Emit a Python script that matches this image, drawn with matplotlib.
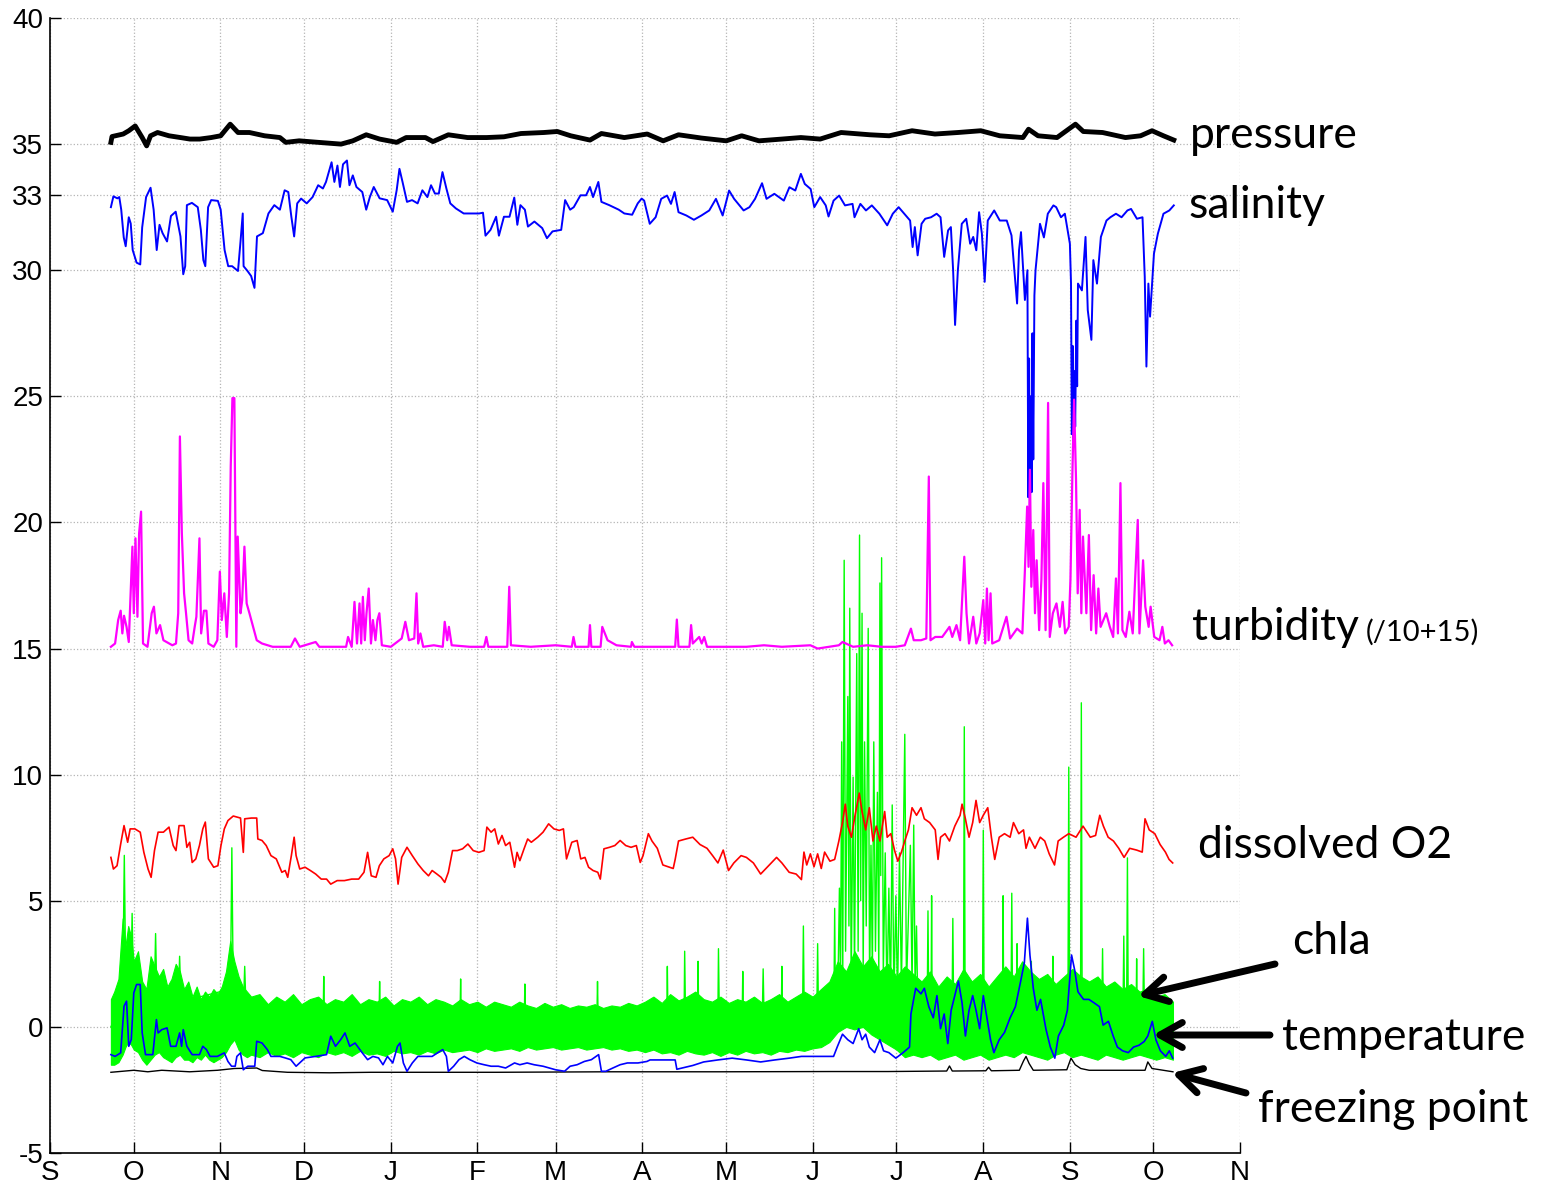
import numpy as np
import matplotlib
matplotlib.use('Agg')
import matplotlib.pyplot as plt
import matplotlib.dates as mdates
from matplotlib.ticker import FuncFormatter

# days since 1 Sep 2012
pressure = [(21.8, 35.07), (22.2, 35.3), (26.2, 35.4), (28.2, 35.53), (30.5, 35.72), (33.0, 35.26),
            (34.6, 34.93), (36.0, 35.33), (38.5, 35.46), (42.6, 35.33), (46.7, 35.26), (50.1, 35.2),
            (53.6, 35.2), (57.7, 35.26), (61.1, 35.33), (64.5, 35.79), (67.3, 35.46), (71.4, 35.46),
            (76.8, 35.33), (82.3, 35.26), (84.4, 35.07), (89.2, 35.13), (96.0, 35.07), (104.2, 35.0),
            (108.4, 35.13), (113.2, 35.37), (118.0, 35.2), (124.1, 35.07), (127.5, 35.26), (134.4, 35.26),
            (137.1, 35.1), (142.6, 35.37), (149.5, 35.26), (156.3, 35.26), (162.5, 35.29), (168.6, 35.42),
            (176.8, 35.46), (181.6, 35.5), (186.4, 35.33), (193.3, 35.16), (197.4, 35.42), (205.6, 35.26),
            (213.8, 35.4), (219.5, 35.13), (225.0, 35.37), (233.2, 35.24), (242.1, 35.13), (247.6, 35.33),
            (253.8, 35.13), (262.0, 35.2), (268.8, 35.26), (275.7, 35.2), (283.2, 35.46), (293.5, 35.37),
            (300.4, 35.33), (308.6, 35.53), (316.8, 35.4), (325.0, 35.46), (333.2, 35.53), (340.0, 35.33),
            (348.3, 35.26), (350.3, 35.59), (353.7, 35.33), (360.5, 35.26), (367.1, 35.79), (369.9, 35.5),
            (376.8, 35.46), (385.0, 35.26), (390.4, 35.33), (394.5, 35.53), (398.6, 35.33), (402.3, 35.16)]

salinity = [(21.8, 32.5), (22.7, 32.93), (24.1, 32.85), (24.8, 32.9), (25.5, 32.4), (26.4, 31.3), (27.1, 30.95),
            (28.2, 32.1), (28.9, 31.85), (29.6, 30.8), (31.0, 30.3), (32.3, 30.23), (33.0, 31.7), (34.4, 32.9),
            (36.0, 33.27), (37.1, 32.4), (38.2, 30.8), (39.2, 31.8), (40.3, 31.47), (41.9, 31.14), (43.3, 32.15),
            (45.0, 32.32), (46.7, 31.34), (47.7, 29.84), (48.4, 30.16), (49.0, 32.58), (50.8, 32.67), (52.9, 32.5),
            (54.0, 31.6), (54.9, 30.4), (55.6, 30.16), (56.6, 32.5), (57.7, 32.78), (60.1, 32.75), (61.1, 32.4),
            (62.5, 30.8), (63.8, 30.16), (65.2, 30.16), (67.3, 29.97), (68.2, 31.14), (69.0, 32.25), (69.3, 30.16),
            (70.7, 29.97), (72.0, 29.77), (73.2, 29.3), (74.1, 31.34), (76.2, 31.47), (78.2, 32.25), (80.3, 32.58),
            (82.3, 32.4), (84.0, 33.17), (85.3, 33.1), (86.4, 32.12), (87.4, 31.34), (88.5, 32.65), (89.9, 32.84),
            (91.9, 32.65), (94.0, 32.9), (96.0, 33.37), (97.7, 33.24), (98.8, 33.5), (100.8, 34.28), (101.8, 33.5),
            (102.9, 34.15), (103.8, 33.3), (104.9, 34.2), (106.3, 34.35), (107.2, 33.37), (108.4, 33.76),
            (109.7, 33.3), (111.8, 33.1), (113.2, 32.4), (114.5, 32.9), (115.9, 33.3), (118.0, 32.85),
            (120.7, 32.78), (122.7, 32.32), (124.1, 33.17), (125.1, 34.02), (126.2, 33.5), (127.8, 32.71),
            (129.6, 32.78), (131.6, 32.65), (133.3, 33.17), (135.1, 32.9), (136.4, 33.37), (137.8, 33.04),
            (139.2, 33.04), (140.5, 33.89), (141.9, 33.24), (143.3, 32.65), (145.3, 32.45), (148.1, 32.25),
            (150.8, 32.25), (153.6, 32.25), (155.0, 32.28), (155.9, 31.37), (157.7, 31.6), (159.7, 32.12),
            (160.7, 31.37), (162.5, 32.12), (164.5, 32.12), (166.2, 32.88), (167.3, 31.8), (168.4, 32.58),
            (170.0, 32.4), (171.1, 31.73), (173.4, 31.93), (176.2, 31.67), (177.9, 31.27), (179.9, 31.54),
            (183.0, 31.6), (184.4, 32.78), (186.2, 32.4), (187.5, 32.5), (189.9, 32.97), (191.9, 32.97),
            (193.3, 33.3), (194.4, 32.9), (196.3, 33.5), (197.4, 32.71), (200.2, 32.58), (203.6, 32.4),
            (205.6, 32.25), (208.4, 32.2), (210.4, 32.65), (211.8, 32.84), (212.7, 32.76), (214.7, 31.84),
            (216.8, 32.1), (218.8, 32.83), (220.9, 32.96), (222.3, 32.63), (223.6, 33.1), (225.0, 32.3),
            (227.8, 32.17), (230.5, 32.0), (233.2, 32.17), (236.0, 32.37), (238.4, 32.83), (240.8, 32.17),
            (243.1, 33.16), (244.9, 32.83), (248.3, 32.37), (250.4, 32.5), (252.4, 32.83), (254.9, 33.45),
            (256.5, 32.83), (259.3, 33.03), (262.7, 32.76), (264.7, 33.29), (266.8, 33.16), (268.8, 33.82),
            (270.2, 33.42), (272.3, 33.22), (273.6, 32.5), (275.7, 32.9), (277.7, 32.57), (278.7, 32.13),
            (280.5, 32.76), (282.5, 32.96), (284.6, 32.57), (287.3, 32.63), (288.0, 32.1), (290.1, 32.63),
            (292.1, 32.37), (294.2, 32.57), (296.9, 32.24), (299.7, 31.78), (301.7, 32.24), (303.8, 32.5),
            (305.8, 32.24), (307.9, 31.97), (308.8, 30.92), (309.6, 31.71), (310.6, 30.59), (312.0, 31.84),
            (313.3, 32.04), (315.4, 32.1), (317.4, 32.24), (318.8, 32.1), (320.1, 30.53), (321.5, 31.58),
            (322.5, 31.71), (323.3, 30.0), (324.0, 27.83), (325.0, 30.0), (326.4, 31.84), (328.0, 32.04),
            (329.4, 31.05), (330.5, 31.32), (331.6, 30.79), (332.6, 32.3), (333.6, 31.45), (334.6, 29.54),
            (335.7, 31.97), (338.0, 32.37), (340.0, 31.97), (342.5, 31.97), (344.2, 31.38), (346.2, 28.68),
            (346.9, 30.79), (347.6, 31.51), (349.0, 28.82), (349.9, 30.0), (350.2, 21.0), (350.5, 26.5),
            (350.8, 20.6), (351.1, 25.0), (351.4, 21.2), (351.7, 27.5), (352.0, 22.5), (352.4, 29.0),
            (352.8, 30.0), (354.4, 31.84), (355.8, 31.3), (357.2, 32.24), (359.2, 32.57), (360.2, 32.5),
            (361.9, 32.1), (363.3, 32.24), (365.1, 31.05), (365.5, 29.5), (365.8, 23.5), (366.1, 27.0),
            (366.4, 23.0), (366.7, 26.0), (367.0, 23.8), (367.4, 28.0), (367.7, 25.4), (368.0, 29.47),
            (369.4, 29.2), (370.7, 31.32), (371.5, 28.42), (372.8, 27.24), (373.5, 30.4), (374.8, 29.47),
            (376.2, 31.32), (378.2, 31.97), (379.6, 32.1), (381.6, 32.24), (383.6, 32.1), (385.7, 32.37),
            (387.0, 32.43), (389.1, 32.04), (391.1, 32.1), (391.9, 29.74), (392.5, 26.18), (393.2, 29.47),
            (393.8, 28.16), (395.2, 30.66), (396.6, 31.45), (398.6, 32.24), (400.7, 32.37), (402.3, 32.57)]

# turbidity already scaled as /10 + 15
turbidity = [(21.8, 15.07), (23.3, 15.2), (24.4, 16.13), (25.3, 16.5), (25.9, 15.6), (26.5, 16.3), (27.4, 15.86),
             (28.2, 15.26), (28.8, 16.99), (29.5, 19.04), (30.0, 16.4), (30.6, 19.37), (31.3, 16.26),
             (31.9, 19.57), (32.6, 20.43), (33.3, 15.2), (34.9, 15.07), (36.4, 16.4), (37.2, 16.66), (38.1, 15.6),
             (39.4, 15.93), (40.6, 15.33), (43.8, 15.13), (45.1, 15.2), (45.9, 16.4), (46.5, 23.41), (47.2, 19.57),
             (48.0, 17.19), (48.7, 16.4), (49.6, 15.33), (50.9, 15.2), (51.8, 15.86), (52.4, 16.26), (53.5, 19.37),
             (54.1, 15.6), (55.1, 16.5), (56.0, 16.5), (56.7, 15.2), (58.6, 15.07), (59.9, 15.33), (60.8, 18.05),
             (61.5, 16.13), (62.4, 17.19), (63.3, 15.46), (64.1, 17.19), (64.7, 22.22), (65.3, 24.93), (66.0, 24.93),
             (66.7, 15.07), (67.2, 19.44), (68.2, 16.4), (68.8, 16.92), (69.6, 19.04), (70.4, 16.79), (71.4, 16.4),
             (72.7, 15.86), (74.0, 15.33), (75.9, 15.2), (79.7, 15.07), (86.2, 15.07), (87.7, 15.4), (89.4, 15.07),
             (95.1, 15.26), (96.4, 15.07), (102.8, 15.07), (106.0, 15.07), (106.7, 15.46), (108.0, 15.07),
             (109.0, 16.85), (109.9, 15.2), (110.8, 16.79), (111.4, 15.2), (112.0, 17.05), (112.7, 15.33),
             (113.3, 16.4), (114.1, 17.38), (114.9, 15.2), (115.6, 16.13), (116.5, 15.33), (117.2, 16.13),
             (117.9, 16.4), (118.8, 15.13), (122.0, 15.07), (125.9, 15.4), (127.2, 16.06), (128.5, 15.33),
             (130.4, 15.4), (131.2, 17.19), (131.8, 15.2), (132.6, 15.6), (133.6, 15.07), (137.4, 15.13),
             (140.6, 15.07), (141.3, 16.06), (142.2, 15.33), (142.8, 15.86), (143.8, 15.13), (150.3, 15.07),
             (155.4, 15.07), (156.2, 15.46), (156.9, 15.07), (163.7, 15.07), (164.4, 17.45), (165.0, 15.13),
             (172.1, 15.07), (181.0, 15.13), (186.8, 15.07), (187.4, 15.46), (188.1, 15.07), (192.8, 15.07),
             (193.3, 15.93), (193.8, 15.07), (197.1, 15.07), (197.7, 15.86), (199.6, 15.33), (202.8, 15.13),
             (208.0, 15.07), (208.3, 15.26), (209.2, 15.07), (217.4, 15.07), (223.8, 15.07), (224.4, 16.15),
             (225.0, 15.07), (228.9, 15.07), (229.5, 15.93), (230.1, 15.2), (232.4, 15.46), (233.3, 15.2),
             (234.2, 15.46), (235.2, 15.07), (249.3, 15.07), (255.6, 15.13), (262.0, 15.07), (272.2, 15.13),
             (274.8, 15.0), (282.4, 15.13), (283.7, 15.26), (287.5, 15.07), (292.6, 15.13), (297.7, 15.07),
             (302.8, 15.07), (306.0, 15.13), (308.2, 15.79), (309.2, 15.33), (311.8, 15.33), (313.7, 15.4),
             (314.6, 21.82), (315.2, 15.33), (316.9, 15.46), (319.4, 15.46), (322.0, 15.86), (323.0, 15.46),
             (324.5, 15.93), (325.8, 15.33), (327.3, 18.64), (328.1, 16.4), (329.0, 15.2), (330.5, 16.26),
             (331.6, 15.2), (332.8, 15.6), (334.1, 16.92), (334.8, 15.2), (335.4, 17.38), (336.0, 15.33),
             (336.7, 17.19), (337.3, 15.2), (339.8, 15.33), (342.4, 16.26), (343.7, 15.4), (346.2, 15.79),
             (348.1, 15.6), (349.0, 18.11), (349.8, 20.63), (350.3, 18.24), (350.8, 22.09), (351.3, 17.45),
             (352.0, 19.7), (352.6, 16.4), (353.2, 18.5), (354.1, 15.73), (354.9, 17.72), (355.6, 21.56),
             (356.4, 15.73), (357.3, 24.74), (357.9, 15.46), (359.0, 16.4), (360.3, 16.79), (361.5, 15.86),
             (362.5, 16.85), (363.4, 15.6), (364.7, 15.86), (365.3, 17.72), (366.0, 21.95), (366.6, 24.87),
             (367.3, 21.69), (367.9, 17.19), (368.6, 20.5), (369.2, 16.4), (369.8, 19.44), (370.4, 17.85),
             (371.0, 16.4), (371.9, 19.5), (372.7, 15.73), (373.6, 17.91), (374.5, 15.6), (375.3, 17.38),
             (376.1, 15.86), (378.1, 16.4), (379.4, 15.86), (380.6, 15.46), (381.6, 17.78), (382.3, 15.6),
             (383.2, 21.56), (383.9, 15.73), (385.1, 15.46), (386.4, 16.46), (387.6, 15.6), (389.4, 20.1),
             (390.0, 15.6), (391.3, 18.5), (392.1, 16.66), (393.3, 15.86), (394.0, 16.66), (395.3, 15.46),
             (397.2, 15.33), (398.2, 15.86), (399.1, 15.2), (400.4, 15.33), (401.7, 15.13)]

oxygen = [(21.8, 6.72), (22.7, 6.26), (24.0, 6.39), (25.3, 7.25), (26.5, 7.98), (27.8, 7.32), (28.7, 7.85),
          (30.4, 7.85), (32.3, 7.72), (33.6, 6.92), (35.1, 6.26), (36.2, 5.93), (37.4, 6.99), (38.7, 7.72),
          (40.6, 7.72), (42.6, 7.92), (44.1, 7.19), (45.1, 6.99), (46.2, 7.98), (48.0, 7.98), (49.0, 7.12),
          (50.0, 7.32), (50.9, 6.52), (52.2, 6.66), (53.5, 7.19), (54.7, 7.85), (55.6, 8.12), (56.7, 6.66),
          (58.6, 6.33), (60.1, 6.39), (61.2, 7.19), (62.4, 7.85), (63.7, 8.18), (65.6, 8.36), (68.2, 8.28),
          (69.2, 6.92), (69.7, 8.25), (72.1, 8.28), (74.0, 8.28), (74.4, 7.45), (75.9, 7.39), (77.4, 7.19),
          (79.1, 6.79), (81.0, 6.66), (83.0, 6.13), (84.2, 6.2), (85.1, 5.93), (86.4, 6.79), (87.4, 7.52),
          (88.1, 6.79), (89.4, 6.26), (91.3, 6.33), (93.2, 6.2), (95.1, 6.06), (97.1, 5.86), (99.0, 5.86),
          (100.5, 5.66), (102.8, 5.8), (105.4, 5.8), (108.0, 5.86), (110.5, 5.86), (112.4, 6.13), (113.7, 6.92),
          (115.0, 5.99), (116.7, 5.93), (117.9, 6.39), (119.5, 6.66), (121.4, 6.79), (122.7, 7.06), (123.7, 6.66),
          (124.6, 5.66), (125.9, 6.72), (127.8, 7.12), (129.7, 6.79), (131.7, 6.46), (133.6, 6.2), (135.5, 5.99),
          (136.8, 6.2), (138.5, 6.06), (140.0, 5.93), (141.3, 5.73), (142.6, 6.13), (144.1, 6.99), (145.8, 6.99),
          (147.7, 7.06), (149.6, 7.25), (151.5, 6.99), (153.5, 6.92), (155.4, 6.99), (156.4, 7.92), (157.9, 7.72),
          (159.2, 7.85), (160.5, 7.25), (161.8, 7.59), (163.1, 7.19), (164.6, 7.32), (166.3, 6.33), (167.2, 6.92),
          (168.2, 6.59), (169.7, 7.06), (171.0, 7.45), (172.3, 7.32), (174.6, 7.52), (176.5, 7.72), (178.5, 8.05),
          (180.4, 7.85), (182.3, 7.79), (183.8, 7.85), (184.9, 6.66), (186.8, 7.32), (188.7, 7.39), (190.0, 6.66),
          (191.5, 6.72), (192.8, 6.33), (194.4, 6.2), (196.1, 6.13), (197.0, 5.86), (198.3, 7.06), (200.3, 7.12),
          (202.2, 7.19), (204.1, 7.39), (206.1, 7.19), (208.0, 7.12), (209.9, 7.19), (211.3, 6.52), (212.3, 6.79),
          (214.2, 7.66), (215.5, 7.37), (217.4, 7.08), (219.4, 6.42), (221.3, 6.35), (223.1, 6.28), (223.8, 6.64),
          (225.0, 7.37), (227.6, 7.45), (230.1, 7.52), (232.7, 7.23), (235.2, 7.08), (237.2, 6.79), (239.1, 6.5),
          (241.0, 7.01), (242.9, 6.2), (244.8, 6.5), (247.4, 6.79), (249.3, 6.72), (251.8, 6.5), (254.4, 6.06),
          (256.9, 6.35), (260.1, 6.72), (262.0, 6.5), (264.6, 6.13), (267.1, 6.06), (269.0, 5.84), (269.9, 6.93),
          (270.9, 6.42), (272.2, 6.86), (273.5, 6.35), (274.8, 6.86), (276.1, 6.28), (277.3, 6.93), (279.2, 6.57),
          (280.9, 6.64), (282.4, 7.37), (283.7, 8.1), (284.7, 8.83), (285.6, 7.96), (286.9, 7.52), (288.2, 8.39),
          (289.7, 9.27), (290.7, 8.54), (292.0, 7.81), (293.3, 8.69), (294.6, 7.37), (295.8, 7.96), (297.1, 7.37),
          (298.8, 8.54), (299.7, 7.52), (301.0, 7.66), (302.3, 7.01), (303.5, 6.57), (304.8, 6.93), (306.0, 7.37),
          (307.3, 7.81), (308.6, 8.69), (310.2, 8.39), (311.8, 8.69), (313.0, 8.25), (314.9, 8.1), (316.9, 7.81),
          (317.9, 6.64), (318.8, 7.52), (320.4, 7.66), (322.0, 7.37), (323.9, 7.96), (325.8, 8.39), (326.5, 8.83),
          (327.7, 8.25), (329.0, 7.52), (330.3, 8.1), (331.5, 8.98), (332.8, 8.1), (334.1, 8.39), (335.7, 8.69),
          (337.0, 7.52), (338.2, 6.64), (339.8, 7.52), (341.7, 7.66), (343.7, 7.52), (344.9, 8.1), (346.8, 7.66),
          (348.5, 7.81), (349.4, 7.08), (350.6, 7.52), (352.6, 7.08), (354.5, 7.52), (356.1, 7.37), (357.7, 6.86),
          (359.6, 6.42), (360.9, 7.37), (362.8, 7.52), (364.7, 7.66), (367.3, 7.52), (369.8, 7.96), (372.4, 7.52),
          (374.3, 7.59), (375.8, 8.39), (377.1, 7.96), (378.8, 7.52), (380.7, 7.37), (382.6, 7.08), (384.5, 6.72),
          (386.5, 7.08), (389.0, 7.01), (391.0, 6.93), (392.0, 8.25), (393.5, 7.81), (395.5, 7.66), (397.4, 7.23),
          (399.3, 6.93), (400.6, 6.64), (401.9, 6.5)]

temperature = [(21.8, -1.1), (23.3, -1.17), (25.3, -1.03), (26.5, 0.82), (27.4, 1.02), (28.2, -0.77), (29.1, -0.5),
               (30.0, 1.35), (31.0, 1.68), (32.3, 1.68), (33.0, -0.24), (34.2, -1.1), (36.8, -1.1), (38.1, 0.29),
               (38.7, -0.24), (40.0, -0.11), (41.9, -0.04), (43.2, -0.77), (45.1, -0.77), (46.4, -0.24),
               (47.1, -0.77), (47.7, -0.11), (49.0, -0.77), (50.9, -1.1), (53.5, -1.1), (54.7, -0.77), (56.0, -0.9),
               (57.3, -1.17), (59.9, -1.17), (62.4, -1.03), (63.7, -1.37), (65.0, -1.56), (66.3, -1.56),
               (66.9, -1.17), (68.2, -1.03), (69.2, -1.7), (70.8, -1.56), (73.3, -1.56), (74.0, -0.57),
               (75.9, -0.64), (77.8, -0.9), (79.1, -1.17), (82.3, -1.17), (84.2, -1.23), (86.2, -1.3),
               (88.1, -1.56), (91.3, -1.23), (95.1, -1.17), (99.0, -1.1), (100.5, -0.37), (102.2, -0.77),
               (104.1, -0.5), (105.6, -0.24), (107.3, -0.77), (109.2, -0.64), (111.8, -1.03), (113.7, -1.3),
               (115.6, -1.17), (117.6, -1.23), (119.2, -1.5), (120.8, -1.17), (122.7, -1.43), (124.4, -0.77),
               (125.3, -0.64), (126.5, -1.43), (127.8, -1.76), (129.7, -1.43), (131.7, -1.17), (134.2, -1.17),
               (136.8, -1.17), (138.7, -1.03), (140.6, -0.9), (141.9, -1.17), (142.6, -1.76), (144.5, -1.56),
               (146.4, -1.3), (148.3, -1.17), (150.3, -1.3), (152.8, -1.43), (155.4, -1.5), (157.9, -1.56),
               (160.5, -1.56), (163.1, -1.63), (166.3, -1.43), (168.2, -1.5), (170.8, -1.43), (173.3, -1.5),
               (176.5, -1.56), (181.0, -1.7), (184.2, -1.76), (186.2, -1.56), (188.7, -1.5), (191.3, -1.37),
               (193.8, -1.3), (196.4, -1.1), (197.4, -1.76), (199.0, -1.76), (201.5, -1.63), (204.1, -1.5),
               (206.7, -1.43), (210.5, -1.43), (213.7, -1.37), (214.8, -1.31), (223.8, -1.31), (224.4, -1.68),
               (230.1, -1.53), (234.0, -1.39), (239.1, -1.31), (244.2, -1.24), (249.3, -1.31), (254.4, -1.39),
               (259.5, -1.31), (264.6, -1.24), (269.0, -1.17), (274.8, -1.17), (280.5, -1.17), (281.8, -0.8),
               (283.7, -0.29), (285.6, -0.51), (287.5, -0.66), (289.5, -0.07), (290.7, -0.51), (292.0, -0.29),
               (293.3, -0.8), (295.2, -1.02), (297.1, -0.51), (298.4, -0.95), (300.3, -1.02), (302.8, -1.24),
               (305.4, -1.02), (307.7, -0.8), (308.2, 0.51), (309.9, 1.53), (311.8, 1.31), (313.0, 1.53),
               (314.6, 0.8), (316.2, 0.36), (317.5, 1.24), (318.8, -0.07), (320.1, 0.51), (321.4, -0.66),
               (322.6, 0.66), (323.9, 1.24), (325.2, 1.82), (326.5, 0.95), (327.7, -0.36), (329.0, 0.66),
               (330.3, 1.24), (331.5, 0.66), (332.8, -0.07), (334.1, 1.24), (335.4, 0.36), (336.7, -0.51),
               (337.9, -1.02), (339.8, -0.51), (341.7, -0.22), (343.7, 0.36), (345.6, 0.8), (347.5, 1.82),
               (348.8, 2.55), (349.9, 4.31), (350.8, 2.85), (352.0, 1.53), (353.3, 0.66), (354.6, 1.09),
               (356.5, -0.07), (358.1, -0.8), (359.7, -1.24), (361.0, -0.36), (362.9, 0.07), (364.2, 0.66),
               (365.7, 2.85), (366.8, 2.26), (368.0, 1.39), (370.0, 1.09), (371.9, 1.09), (373.8, 0.95),
               (375.7, 0.8), (377.0, 0.07), (378.9, 0.22), (380.6, -0.36), (382.1, -0.8), (384.0, -0.95),
               (386.0, -1.02), (387.9, -0.8), (389.8, -0.73), (391.7, -0.58), (393.0, -0.36), (394.6, 0.22),
               (395.9, -0.51), (397.5, -0.95), (399.4, -1.17), (400.7, -0.95), (401.9, -1.24)]

freezing = [(21.8, -1.8), (30.0, -1.72), (35.0, -1.78), (40.0, -1.72), (50.0, -1.78), (55.0, -1.75),
            (60.0, -1.72), (66.0, -1.65), (74.0, -1.63), (76.0, -1.73), (85.0, -1.8), (100.0, -1.82),
            (115.0, -1.8), (130.0, -1.8), (160.0, -1.8), (200.0, -1.78), (240.0, -1.78), (280.0, -1.77),
            (300.0, -1.77), (321.0, -1.75), (322.0, -1.55), (323.0, -1.75), (335.0, -1.74), (336.0, -1.6),
            (337.0, -1.74), (347.0, -1.72), (348.5, -1.35), (349.4, -1.17), (350.5, -1.45), (352.0, -1.72),
            (364.0, -1.7), (365.5, -1.24), (367.0, -1.5), (369.0, -1.65), (372.0, -1.72), (392.0, -1.72),
            (393.0, -1.39), (394.5, -1.65), (402.0, -1.78)]

# chla: dense band (lower / upper edge) plus the taller spikes
chla_band_day = [21.8, 23, 24.5, 26, 27, 28, 29, 30, 31.5, 33, 34.5, 36, 37.5, 39, 40.5, 42, 43.5, 45, 46.5, 48,
                 49.5, 51, 52.5, 54, 55.5, 57, 58.5, 60, 61.5, 63, 64.5, 66, 67.5, 69, 70.5, 72,
                 75, 78, 81, 84, 87, 90, 93, 96, 99, 102, 105, 108, 111, 114, 117, 120, 123, 126, 129, 132,
                 135, 138, 141, 144, 147, 150, 153, 156, 159, 162, 165, 168, 171, 174, 177, 180, 183, 186, 189,
                 192, 195, 198, 201, 204, 207, 210,
                 213, 216, 219, 222, 225, 228, 231, 234, 237, 240, 243, 246, 249, 252, 255, 258, 261, 264, 267,
                 270, 273, 276, 279,
                 282, 285, 288, 291, 294, 297, 300, 303, 306, 309,
                 312, 315, 318, 321, 324, 327, 330, 333, 336, 339, 342, 345, 348, 351, 354, 357, 360, 363, 366,
                 369, 372, 375, 378, 381, 384, 387, 390, 393, 396, 399, 402]
chla_band_hi = [1.1, 1.4, 1.9, 4.3, 3.2, 4.0, 3.6, 2.6, 3.0, 1.8, 1.5, 2.8, 2.4, 2.0, 2.3, 1.6, 1.9, 2.5, 2.2, 1.5,
                1.8, 1.2, 1.6, 1.1, 1.4, 1.2, 1.5, 1.3, 1.6, 2.2, 3.4, 2.6, 2.0, 1.6, 1.4, 1.2,
                1.3, 0.9, 1.2, 1.0, 1.3, 0.9, 1.1, 1.2, 0.9, 1.1, 1.0, 1.3, 0.9, 1.1, 1.0, 1.2, 0.85, 1.1, 1.0, 1.2,
                0.9, 1.1, 1.0, 0.85, 1.1, 0.9, 1.0, 0.8, 1.0, 0.9, 0.8, 1.0, 0.85, 0.75, 0.95, 0.8, 0.9, 0.75,
                0.85, 0.8, 0.9, 0.75, 0.85, 0.8, 0.95, 0.85,
                1.0, 1.2, 0.95, 1.3, 1.05, 1.2, 1.4, 1.1, 1.0, 1.2, 0.95, 1.1, 1.0, 1.2, 0.95, 1.1, 1.3, 1.0, 1.2,
                1.4, 1.2, 1.5, 1.8,
                2.6, 2.2, 3.0, 2.4, 2.8, 2.2, 2.5, 2.0, 2.4, 2.1,
                1.8, 2.2, 1.6, 2.0, 1.7, 2.3, 1.8, 2.1, 1.6, 2.0, 2.4, 2.0, 2.6, 2.2, 1.9, 2.1, 1.7, 2.0, 2.3,
                2.0, 1.8, 2.0, 1.6, 1.8, 1.5, 1.7, 1.4, 1.5, 1.2, 1.3, 1.0]
chla_band_lo = [-1.5, -1.5, -1.4, -1.1, -0.8, -0.6, -0.7, -0.9, -1.0, -1.3, -1.5, -1.3, -1.1, -1.0, -1.2, -1.3,
                -1.4, -1.2, -1.1, -1.3, -1.3, -1.4, -1.2, -1.3, -1.1, -1.3, -1.4, -1.3, -1.2, -1.0, -0.7, -0.5,
                -0.9, -1.1, -1.2, -1.1,
                -1.2, -1.0, -1.15, -1.05, -1.2, -1.0, -1.1, -1.2, -1.0, -1.1, -1.0, -1.15, -0.95, -1.1, -1.05,
                -1.15, -0.95, -1.05, -1.0, -1.1, -0.95, -1.05, -0.9, -1.0, -0.95, -0.9, -1.0, -0.85, -0.95, -0.9,
                -0.85, -0.95, -0.8, -0.9, -0.85, -0.8, -0.9, -0.85, -0.8, -0.9, -0.85, -0.8, -0.9, -0.85, -0.95,
                -0.9,
                -1.0, -0.9, -1.05, -1.0, -1.1, -0.95, -1.05, -1.1, -1.0, -1.15, -1.0, -1.1, -0.95, -1.05, -1.0,
                -1.1, -0.95, -1.0, -0.9, -0.95, -0.85, -0.8, -0.6,
                -0.2, 0.0, -0.1, 0.0, -0.3, -0.5, -0.7, -0.9, -1.2, -1.1,
                -1.2, -1.1, -1.3, -1.2, -1.1, -1.3, -1.2, -1.1, -1.3, -1.2, -1.1, -1.2, -1.0, -1.1, -1.2, -1.3,
                -1.1, -1.0, -1.2, -1.1, -1.2, -1.3, -1.1, -1.2, -1.3, -1.2, -1.1, -1.2, -1.3, -1.2, -1.3]
chla_spikes = [(21.8, 0.0), (26.0, 1.0), (26.6, 6.8), (27.2, 1.0), (28.9, 1.5), (29.4, 4.5), (29.9, 1.5),
               (37.3, 1.0), (37.8, 3.7), (38.3, 1.0), (45.9, 1.0), (46.4, 2.8), (46.9, 1.0), (64.6, 1.5),
               (65.1, 7.1), (65.6, 1.5), (69.3, 1.0), (69.7, 2.4), (70.1, 1.0), (97.8, 0.5), (98.0, 2.0),
               (98.2, 0.5), (117.8, 0.5), (118.0, 1.8), (118.2, 0.5), (146.8, 0.5), (147.0, 1.9), (147.2, 0.5),
               (169.8, 0.5), (170.0, 1.7), (170.2, 0.5), (195.8, 0.5), (196.0, 1.8), (196.2, 0.5), (220.8, 0.5),
               (221.0, 2.4), (221.2, 0.5), (227.0, 0.5), (227.2, 3.0), (227.5, 0.5), (231.8, 0.5), (232.0, 2.6),
               (232.2, 0.5), (239.1, 0.5), (239.3, 3.1), (239.6, 0.5), (247.8, 0.5), (248.0, 2.2), (248.2, 0.5),
               (255.0, 0.5), (255.3, 2.3), (255.6, 0.5), (261.8, 0.5), (262.0, 2.4), (262.2, 0.5),
               (269.4, 0.5), (269.7, 4.0), (270.0, 0.5), (274.5, 0.5), (274.8, 3.3), (275.1, 0.5), (280.6, 0.5),
               (280.9, 4.7), (281.2, 0.5), (282.0, 1.0), (282.6, 5.5), (283.0, 1.5), (283.4, 11.3), (283.8, 2.0),
               (284.3, 18.5), (284.8, 3.0), (285.6, 13.1), (286.0, 4.0), (286.3, 16.6), (286.8, 1.5),
               (287.5, 9.9), (288.0, 2.0), (288.8, 14.8), (289.3, 3.0), (289.8, 19.5), (290.2, 5.0),
               (290.7, 16.4), (291.1, 2.0), (291.6, 11.3), (292.2, 4.0), (292.9, 15.8), (293.4, 1.5),
               (293.9, 7.2), (294.4, 2.0), (294.9, 11.3), (295.5, 3.0), (296.2, 9.3), (296.7, 2.0),
               (297.1, 17.6), (297.4, 6.0), (297.7, 18.6), (298.3, 2.0), (299.0, 6.9), (299.6, 1.0),
               (300.3, 5.5), (300.9, 1.0), (301.5, 8.8), (302.1, 1.0), (302.8, 5.2), (303.4, 1.0), (304.1, 6.9),
               (304.8, 1.5), (306.0, 11.6), (306.6, 1.5), (308.0, 7.2), (308.6, 1.5), (309.2, 8.0), (309.7, 1.5),
               (310.2, 4.0), (310.7, 0.5), (314.0, 0.5), (314.3, 4.6), (314.6, 0.5), (315.4, 0.5), (315.6, 5.2),
               (315.8, 0.5), (322.9, 0.5), (323.2, 4.3), (323.5, 0.5), (327.0, 0.5), (327.3, 11.9), (327.6, 0.5),
               (333.8, 0.5), (334.1, 7.8), (334.4, 0.5), (341.0, 0.5), (341.2, 5.2), (341.4, 0.5), (344.0, 0.5),
               (344.3, 5.3), (344.6, 0.5), (346.0, 0.5), (346.2, 3.3), (346.4, 0.5), (351.1, 0.5), (351.3, 2.6),
               (351.5, 0.5), (358.8, 0.5), (359.0, 2.8), (359.2, 0.5), (364.4, 0.5), (364.7, 10.3), (365.0, 0.5),
               (368.9, 0.5), (369.2, 12.85), (369.5, 0.5), (376.5, 0.5), (376.8, 3.1), (377.1, 0.5),
               (384.1, 0.5), (384.4, 3.6), (384.7, 0.5), (385.4, 0.5), (385.7, 6.7), (386.0, 0.5), (388.8, 0.5),
               (389.0, 2.7), (389.2, 0.5), (391.2, 0.5), (391.5, 3.1), (391.8, 0.5), (402.0, 0.0)]

y_ticks = [-5, 0, 5, 10, 15, 20, 25, 30, 33, 35, 40]

start = np.datetime64('2012-09-01T00:00')
end = np.datetime64('2013-11-01T00:00')


def to_dates(days):
    mins = np.round(np.asarray(days, dtype=float) * 1440).astype(np.int64)
    return start + mins.astype('timedelta64[m]')


def split(pairs):
    d, v = zip(*pairs)
    return to_dates(d), np.array(v)


plt.rcParams['axes.unicode_minus'] = False
W, H = 1546, 1192
fig = plt.figure(figsize=(W / 100, H / 100), dpi=100)
ax = fig.add_axes([50 / W, 1 - 1153 / H, 1190 / W, 1135 / H])

ax.fill_between(to_dates(chla_band_day), chla_band_lo, chla_band_hi, color='#00ff00', lw=0.8, zorder=2)
x, y = split(chla_spikes)
ax.plot(x, y, color='#00ff00', lw=1.0, zorder=2)

x, y = split(freezing)
ax.plot(x, y, color='black', lw=1.0, zorder=3)
x, y = split(oxygen)
ax.plot(x, y, color='#ff0000', lw=1.2, zorder=4)
x, y = split(temperature)
ax.plot(x, y, color='#0000ff', lw=1.2, zorder=5)
x, y = split(salinity)
ax.plot(x, y, color='#0000ff', lw=1.4, zorder=3)
x, y = split(turbidity)
ax.plot(x, y, color='#ff00ff', lw=1.6, zorder=4)
x, y = split(pressure)
ax.plot(x, y, color='black', lw=3.5, zorder=4)

ax.set_xlim(start, end)
ax.set_ylim(-5, 40)
ax.set_yticks(y_ticks)
ax.set_yticklabels([str(t) for t in y_ticks])
ax.xaxis.set_major_locator(mdates.MonthLocator())
ax.xaxis.set_major_formatter(FuncFormatter(lambda v, pos: mdates.num2date(v).strftime('%b')[0]))

for s in ['top', 'right']:
    ax.spines[s].set_visible(False)
for s in ['left', 'bottom']:
    ax.spines[s].set_linewidth(1.2)
ax.tick_params(direction='in', length=8, width=1, labelsize=20, colors='black')
ax.tick_params(axis='x', pad=5)
ax.tick_params(axis='y', pad=5)
for lab in ax.get_xticklabels() + ax.get_yticklabels():
    lab.set_family('Liberation Sans')
ax.grid(True, linestyle=':', color='#b5b5b5', lw=0.9)
ax.set_axisbelow(True)


def fpos(px, py):
    return px / W, 1 - py / H


label_font = 'Lato'
labels = [('pressure', 1190, 136), ('salinity', 1188, 206), ('turbidity', 1192, 628),
          ('dissolved O2', 1198, 846), ('chla', 1292, 941), ('temperature', 1282, 1037),
          ('freezing point', 1258, 1110)]
for txt, px, py in labels:
    fx, fy = fpos(px, py)
    fig.text(fx, fy, txt, fontsize=32, family=label_font, ha='left', va='center')
fx, fy = fpos(1366, 632)
fig.text(fx, fy, '(/10+15)', fontsize=21, family=label_font, ha='left', va='center')

arrows = [((1275, 964), (1138, 996)), ((1270, 1035), (1153, 1035)), ((1246, 1093), (1172, 1073))]
for tail, head in arrows:
    ax.annotate('', xy=fpos(*head), xytext=fpos(*tail), xycoords='figure fraction',
                textcoords='figure fraction', annotation_clip=False,
                arrowprops=dict(arrowstyle='->,head_length=1.6,head_width=0.9', lw=5, color='black',
                                shrinkA=0, shrinkB=0))

fig.savefig('out.png', dpi=100)
